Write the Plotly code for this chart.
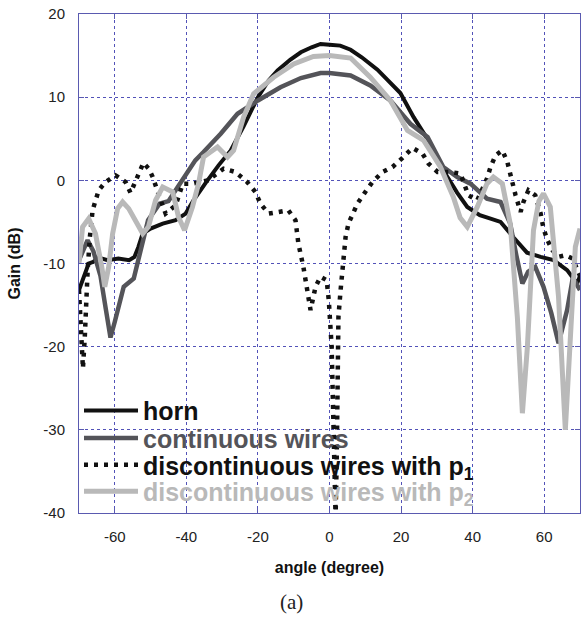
import plotly.graph_objects as go

# ---------------- data ----------------
horn_x = [-70, -69, -67.3, -66, -64.5, -62, -59, -56, -54.5, -53.4, -52.2, -50, -46.6, -43, -40.2,
          -38, -36.6, -34.6, -31, -27.6, -24, -20, -17, -14.5, -11, -8, -5, -2.5, 0, 3, 5.9, 9,
          13.4, 16.5, 19.8, 23.5, 28.2, 31.8, 35.7, 38.5, 42, 45, 47.8, 51.5, 55.2, 59, 62.6,
          66.4, 69.2, 70]
horn_y = [-13.2, -12, -10, -9.8, -9.3, -9.6, -9.4, -9.6, -9.2, -8, -6.4, -5.8, -5.2, -4.8, -4,
          -2.4, -1.6, -0.3, 1.8, 3.6, 6.5, 10, 12, 13.2, 14.5, 15.4, 16, 16.4, 16.3, 16.2, 15.7, 14.8,
          13.3, 12, 10.5, 7.6, 4.4, 1.2, -1.5, -3.2, -4.2, -4.6, -5, -6.9, -8.7, -9.2, -9.6,
          -10.8, -12.4, -11.5]

cont_x = [-70, -69, -67.6, -66, -64, -62.5, -61.2, -60, -57.5, -54.7, -52.5, -50.7, -47.5, -45,
          -43, -40.5, -37.5, -35.2, -30.4, -25.7, -20, -13.7, -8, -2.5, 0, 5.9, 11.4, 17, 22.6, 25,
          27.4, 31.8, 35.7, 39.4, 44, 47.8, 50.5, 52.2, 53.9, 55.5, 57.5, 59.8, 62, 64, 66.4, 68, 70]
cont_y = [-9.6, -8.5, -7.2, -8.5, -11.5, -15.5, -18.9, -17, -12.8, -11.8, -8, -4.8, -2.8, -2.5,
          -1.2, 0.5, 2.4, 3.4, 5.6, 8, 9.6, 11.2, 12.3, 12.9, 12.9, 12.6, 11.4, 9.6, 6.8, 6.0,
          5.2, 1.6, 0.4, -0.4, -2.2, -2.6, -5.2, -9, -12.4, -11, -10.4, -12.8, -16, -19.6, -15.6, -11.7, -13.2]

p1_x = [-70, -69.6, -69.2, -68.9, -68.4, -68, -67.6, -67, -66.2, -64.5, -62.6, -59.8, -57, -55.6,
        -53.5, -52, -50.5, -49.4, -47.5, -45.8, -43, -41, -38.3, -34, -29.6, -26.3, -23, -20.7,
        -19.3, -17, -14.2, -11.5, -9.5, -8.7, -7.3, -6.5, -5.3, -3.9, -2.5, -0.8, -0.2, 0.6, 1.0,
        1.4, 1.7, 2.0, 2.2, 2.5, 3.1, 3.6, 4.5, 5.3, 6.7, 7.8, 10, 12, 14.8, 17.6, 20.4, 23.2, 26,
        27.7, 30.2, 33.8, 36.6, 38.8, 41.3, 44, 45, 46.4, 48.3, 49.7, 50.5, 51.1, 52, 53.4, 54.2,
        55.6, 57.5, 59, 59.8, 60.9, 62.3, 64, 65.9, 67.9, 69.3, 70]
p1_y = [-13.2, -16, -20, -22.6, -19, -14, -11, -7, -3.6, -1.2, -0.2, 0.6, -0.2, -1.5,
        0.8, 2.1, 1.4, 0.4, -2, -4, -3, -0.4, -0.4, 0, 1.4, 1.0, -0.2, -1.4,
        -2.8, -4, -3.8, -3.6, -4.8, -7.6, -10.4, -12.6, -15.6, -12.8, -11.6, -12, -14.4, -20, -28,
        -36, -40.5, -34, -24.4, -16.4, -13.2, -10.4, -6.8, -5.2, -4, -2.8, -1.4, -0.2, 1, 1.6, 2.7, 3.9, 3.2,
        2, 1, 1, 0.8, -1.8, -2.4, 0.2, 1.6, 3, 3.6, 2.2, 0.8, -0.4, -1.8, -3.8, -2.6,
        -1.2, -1.8, -4, -5.8, -7.2, -8.4, -9.2, -9, -9.4, -10.8, -11.5]

p2_x = [-70, -69, -67.3, -65.4, -63.6, -62.8, -61.7, -60.6, -59.2, -57.8, -56.1, -54.2, -52.2,
        -50.6, -48.6, -46.6, -43.8, -42.2, -40.5, -38.3, -36.6, -35.2, -31.3, -28.5, -26.8, -24,
        -21.2, -15.6, -10, -4.5, 0, 5.9, 11.4, 17, 21.8, 26.3, 31, 34.6, 36.5, 38.5, 41.3, 44, 45.8,
        48.3, 50.5, 52.5, 53.9, 55.3, 57, 58.5, 59.8, 61.7, 64, 65.9, 67.3, 68.7, 70]
p2_y = [-10, -5.6, -4.6, -6.4, -10.5, -12.8, -10.4, -6.4, -3.4, -2.6, -3.4, -5, -6.4,
        -5.6, -2.4, -0.8, -1.4, -4.4, -6, -3.2, -0.4, 2.8, 4, 2.8, 3.6, 7.6,
        10.4, 12.4, 14, 14.9, 15, 14.7, 12.4, 9.6, 6, 4.8, 1.6, -2, -4.5, -5.6, -3.2, -0.4, 0.4,
        -0.4, -5.2, -16.5, -28, -20, -6, -2.5, -1.6, -3.2, -14, -30, -18, -8, -5.8]

names = ["horn", "continuous wires", "discontinuous wires with p<sub>1</sub>",
         "discontinuous wires with p<sub>2</sub>"]
colors = ["#111111", "#545459", "#111111", "#b9b9b9"]

x_ticks = [-60, -40, -20, 0, 20, 40, 60]
x_ticktext = ["-60", "-40", "-20", "0", "20", "40", "60"]
y_ticks = [-40, -30, -20, -10, 0, 10, 20]
y_ticktext = ["-40", "-30", "-20", "-10", "0", "10", "20"]

# ---------------- figure ----------------
fig = go.Figure()
series = [(horn_x, horn_y, "solid", 4), (cont_x, cont_y, "solid", 4.5),
          (p1_x, p1_y, "4px,6px", 4.5), (p2_x, p2_y, "solid", 5)]
legend_ids = ["legend", "legend2", "legend3", "legend4"]
for (xs, ys, dash, w), name, col, lg in zip(series, names, colors, legend_ids):
    fig.add_trace(go.Scatter(
        x=xs, y=ys, mode="lines", line=dict(color=col, width=w, dash=dash),
        name=f"<span style='color:{col}'>{name}</span>", legend=lg))

axis_col = "#5a5ab0"
common = dict(showgrid=True, gridcolor="#5252b8", griddash="3px,3px", gridwidth=1,
              showline=True, linecolor=axis_col, linewidth=1, mirror="ticks",
              ticks="inside", ticklen=5, tickcolor=axis_col, zeroline=False,
              tickfont=dict(family="Liberation Sans, Arial", size=15, color="#222"))

fig.update_xaxes(range=[-70, 70], tickvals=x_ticks, ticktext=x_ticktext, ticklabelstandoff=10,
                 title=dict(text="angle (degree)", standoff=17,
                            font=dict(family="Liberation Sans, Arial", size=16, color="#111",
                                      weight="bold")),
                 **common)
fig.update_yaxes(range=[-40, 20], tickvals=y_ticks, ticktext=y_ticktext, ticklabelstandoff=10,
                 title=dict(text="Gain (dB)", standoff=18,
                            font=dict(family="Liberation Sans, Arial", size=16, color="#111",
                                      weight="bold")),
                 **common)

leg_font = dict(family="Liberation Sans, Arial", size=25, color="#111", weight="bold")
leg_y = [0.205, 0.150, 0.096, 0.043]
leg_kwargs = {}
for lg, yy in zip(legend_ids, leg_y):
    leg_kwargs[lg] = dict(x=0, y=yy, xanchor="left", yanchor="middle",
                          bgcolor="rgba(0,0,0,0)", font=leg_font, itemwidth=54)

fig.update_layout(
    width=581, height=619,
    margin=dict(l=79, r=1, t=14, b=106),
    plot_bgcolor="white", paper_bgcolor="white",
    showlegend=True,
    annotations=[dict(text="(a)", x=0.5, y=0, xref="paper", yref="paper",
                      xanchor="center", yanchor="top", yshift=-75, xshift=-38, showarrow=False,
                      font=dict(family="Liberation Serif, DejaVu Serif", size=21, color="#222"))],
    **leg_kwargs,
)

fig.write_html("out.html")
